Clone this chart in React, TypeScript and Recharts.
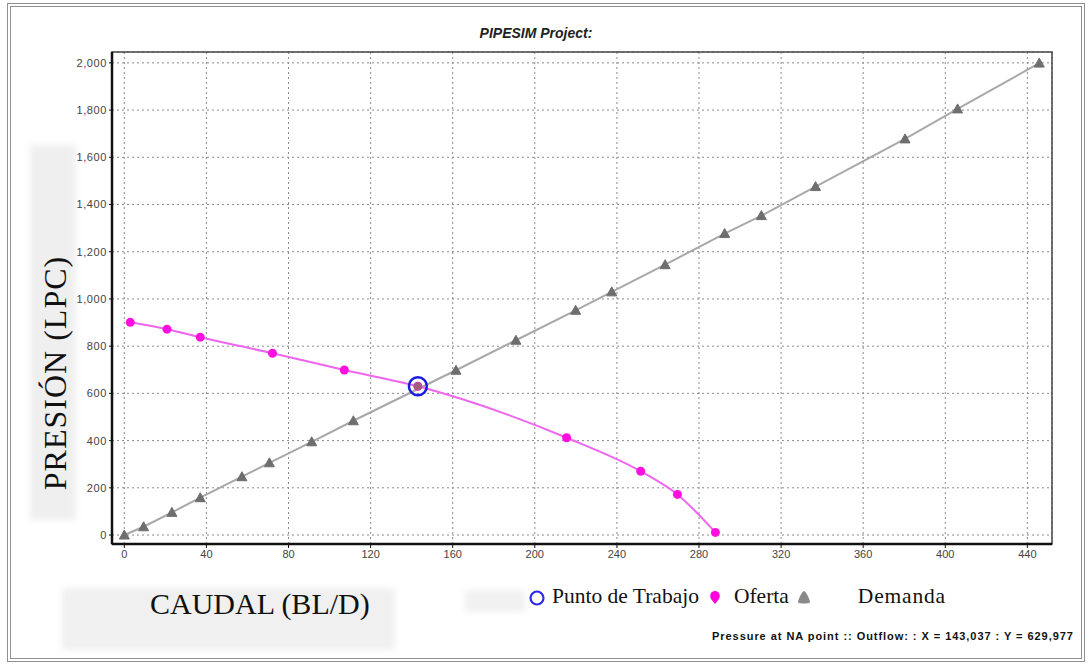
import React from 'react';
import { ComposedChart, Line, Scatter, XAxis, YAxis, CartesianGrid, ReferenceArea } from 'recharts';

// Demanda (gray triangles)
const demandaQ = [0, 9.4, 23.2, 37, 57.3, 70.7, 91.3, 111.6, 161.6, 190.8, 219.9, 237.5, 263.5, 292.5, 310.4, 336.8, 380.4, 406, 445.8];
const demandaP = [0, 35, 96, 158, 247, 306, 395, 484, 698, 825, 952, 1030, 1145, 1277, 1353, 1476, 1678, 1805, 1999];

// Oferta (magenta)
const ofertaQ = [2.9, 20.8, 37, 72.2, 107.2, 143.037, 215.5, 251.6, 269.5, 288];
const ofertaP = [901, 872, 838, 770, 699, 629.977, 412, 270, 172, 11];

// Punto de trabajo
const puntoQ = [143.037];
const puntoP = [629.977];

const xTicks = [0, 40, 80, 120, 160, 200, 240, 280, 320, 360, 400, 440];
const yTicks = [0, 200, 400, 600, 800, 1000, 1200, 1400, 1600, 1800, 2000];
const xDomain = [-6, 452];
const yDomain = [-38, 2046];

const demanda = demandaQ.map((x, i) => ({ x, y: demandaP[i] }));
const oferta = ofertaQ.map((x, i) => ({ x, y: ofertaP[i] }));
const punto = puntoQ.map((x, i) => ({ x, y: puntoP[i] }));

const fmt = (v: number) => v.toLocaleString('en-US');

const serif = '"Liberation Serif", "DejaVu Serif", serif';
const sans = '"Liberation Sans", Arial, sans-serif';

const tri = (props: any) => {
  const { cx, cy, index } = props;
  if (cx == null || cy == null) return <g key={index} />;
  return <path key={index} d={`M${cx},${cy - 5} L${cx + 5},${cy + 4} L${cx - 5},${cy + 4} Z`} fill="#6e6e6e" stroke="#6e6e6e" strokeWidth={1} strokeLinejoin="round" />;
};

const dotMag = (props: any) => {
  const { cx, cy, index } = props;
  if (cx == null || cy == null) return <g key={index} />;
  return <circle key={index} cx={cx} cy={cy} r={4.5} fill="#ff10e0" />;
};

const puntoShape = (props: any) => {
  const { cx, cy } = props;
  return (
    <g>
      <circle cx={cx} cy={cy} r={4} fill="#a0607c" />
      <circle cx={cx} cy={cy} r={9} fill="none" stroke="#1a1ae0" strokeWidth={2.5} />
    </g>
  );
};

export default function App() {
  return (
    <div style={{ position: 'absolute', left: 0, top: 0, width: 1088, height: 664, background: '#fff', overflow: 'hidden' }}>
      <div style={{ position: 'absolute', left: 7, top: 3, width: 1070, height: 651, border: '4px double #8f8f8f' }} />
      {/* faint boxes */}
      <div style={{ position: 'absolute', left: 30, top: 145, width: 46, height: 375, background: '#efefef', filter: 'blur(3px)' }} />
      <div style={{ position: 'absolute', left: 62, top: 588, width: 333, height: 62, background: '#f0f0f0', filter: 'blur(3px)' }} />
      <div style={{ position: 'absolute', left: 465, top: 590, width: 60, height: 22, background: '#f1f1f1', filter: 'blur(3px)' }} />

      <div style={{ position: 'absolute', left: 0, top: 25, width: 1072, textAlign: 'center', fontFamily: sans, fontWeight: 'bold', fontStyle: 'italic', fontSize: 14, color: '#222' }}>
        PIPESIM Project:
      </div>

      <div style={{ position: 'absolute', left: 0, top: 0 }}>
        <ComposedChart width={1088} height={580} margin={{ top: 52, right: 36, left: 62, bottom: 6 }}>
          <CartesianGrid stroke="#8a8a8a" strokeDasharray="2 3" strokeWidth={1} />
          <XAxis
            type="number"
            dataKey="x"
            domain={xDomain}
            ticks={xTicks}
            allowDataOverflow
            height={30}
            tickFormatter={fmt}
            axisLine={{ stroke: '#111', strokeWidth: 2.5 }}
            tickLine={{ stroke: '#111' }}
            tickSize={4}
            tick={{ fontSize: 11, fill: '#444', fontFamily: sans }}
          />
          <YAxis
            type="number"
            dataKey="y"
            domain={yDomain}
            ticks={yTicks}
            allowDataOverflow
            width={50}
            tickFormatter={fmt}
            axisLine={{ stroke: '#111', strokeWidth: 2.5 }}
            tickLine={{ stroke: '#111' }}
            tickSize={3}
            tick={{ fontSize: 11, fill: '#444', fontFamily: sans, letterSpacing: 0.6 }}
          />
          <ReferenceArea x1={xDomain[0]} x2={xDomain[1]} y1={yDomain[0]} y2={yDomain[1]} fill="none" stroke="#444" strokeWidth={1.5} fillOpacity={0} />
          <Line data={demanda} dataKey="y" type="linear" stroke="#a8a8a8" strokeWidth={2} dot={tri} isAnimationActive={false} />
          <Line data={oferta} dataKey="y" type="monotone" stroke="#ee66ee" strokeWidth={2} dot={dotMag} isAnimationActive={false} />
          <Scatter data={punto} dataKey="y" shape={puntoShape} isAnimationActive={false} />
        </ComposedChart>
      </div>

      <div style={{ position: 'absolute', left: 55, top: 373, transform: 'translate(-50%, -50%) rotate(-90deg)', whiteSpace: 'nowrap', fontFamily: serif, fontSize: 32, letterSpacing: 1, color: '#111' }}>
        PRESIÓN (LPC)
      </div>
      <div style={{ position: 'absolute', left: 150, top: 587, whiteSpace: 'nowrap', fontFamily: serif, fontSize: 30, color: '#111' }}>
        CAUDAL (BL/D)
      </div>

      {/* legend */}
      <div style={{ position: 'absolute', left: 528, top: 584, display: 'flex', alignItems: 'center', fontFamily: serif, fontSize: 21.5, color: '#111', whiteSpace: 'nowrap' }}>
        <svg width={20} height={20}><circle cx={9} cy={11} r={6.5} fill="none" stroke="#2a2ae8" strokeWidth={2.2} /></svg>
        <span style={{ marginLeft: 4 }}>Punto de Trabajo</span>
        <svg width={18} height={20} style={{ marginLeft: 7 }}><path d="M9,4 C13,4 15,8 13,12 L9,17 L5,12 C3,8 5,4 9,4 Z" fill="#ff00dd" /></svg>
        <span style={{ marginLeft: 10 }}>Oferta</span>
        <svg width={18} height={20} style={{ marginLeft: 6 }}><path d="M9,4 C11,4 15,13 15,15 C15,17 3,17 3,15 C3,13 7,4 9,4 Z" fill="#8a8a8a" /></svg>
        <span style={{ marginLeft: 45, letterSpacing: 0.8 }}>Demanda</span>
      </div>

      <div style={{ position: 'absolute', left: 712, top: 630, whiteSpace: 'nowrap', fontFamily: sans, fontWeight: 'bold', fontSize: 11, letterSpacing: 0.95, color: '#111' }}>
        Pressure at NA point :: Outflow: : X = 143,037 : Y = 629,977
      </div>
    </div>
  );
}
